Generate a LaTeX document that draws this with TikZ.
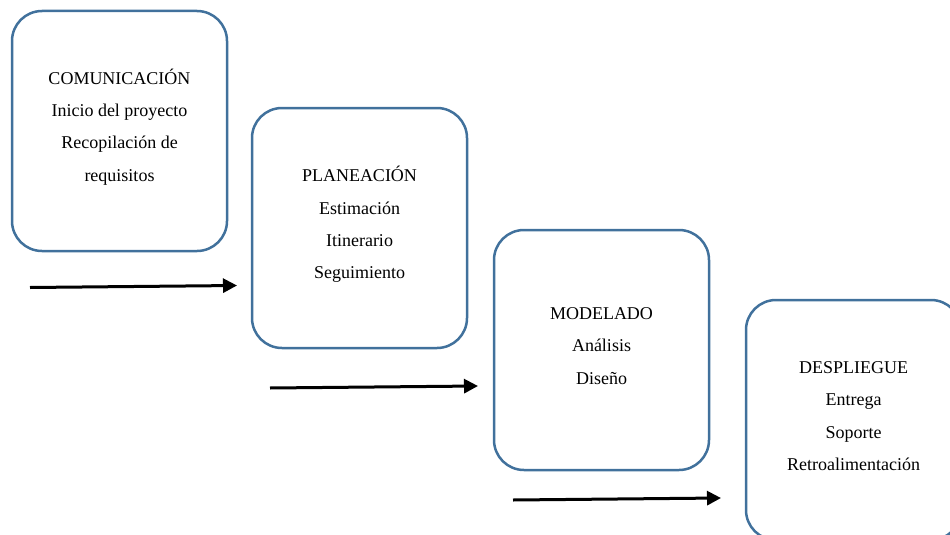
\documentclass[tikz,border=0pt]{standalone}
\usepackage{fontspec}
\setmainfont{Liberation Serif}
\usetikzlibrary{arrows.meta}
\definecolor{bordeazul}{RGB}{65,113,156}

\begin{document}
\begin{tikzpicture}[x=1pt, y=-1pt,
    fase/.style={draw=bordeazul, line width=2.5pt, rounded corners=30pt, rectangle,
        minimum width=215pt, minimum height=240pt},
    texto/.style={align=center, font=\fontsize{18}{32.3}\selectfont},
    flecha/.style={-{Triangle[length=14pt, width=14pt]}, line width=3pt, black}]
    \useasboundingbox (0,0) rectangle (950,535);
    \clip (0,0) rectangle (950,535);
    \node (comunicacion) [fase] at (119.5, 131) {};
    \node (planeacion) [fase] at (359.5, 228) {};
    \node (modelado) [fase] at (601.5, 350) {};
    \node (despliegue) [fase] at (853.5, 420) {};

    \node (comunicacion_txt) [texto, yshift=4pt] at (comunicacion) {COMUNICACIÓN\\Inicio del proyecto\\Recopilación de\\requisitos};
    \node (planeacion_txt) [texto, yshift=3.5pt] at (planeacion) {PLANEACIÓN\\Estimación\\Itinerario\\Seguimiento};
    \node (modelado_txt) [texto, yshift=4pt] at (modelado) {MODELADO\\Análisis\\Diseño};
    \node (despliegue_txt) [texto, yshift=4pt] at (despliegue) {DESPLIEGUE\\Entrega\\Soporte\\Retroalimentación};

    \coordinate (ini1) at (30, 287.5);
    \coordinate (fin1) at (237, 285.5);
    \coordinate (ini2) at (270, 388);
    \coordinate (fin2) at (478, 386);
    \coordinate (ini3) at (513, 500);
    \coordinate (fin3) at (721, 498);
    \draw[flecha] (ini1) -- (fin1);
    \draw[flecha] (ini2) -- (fin2);
    \draw[flecha] (ini3) -- (fin3);
\end{tikzpicture}
\end{document}
